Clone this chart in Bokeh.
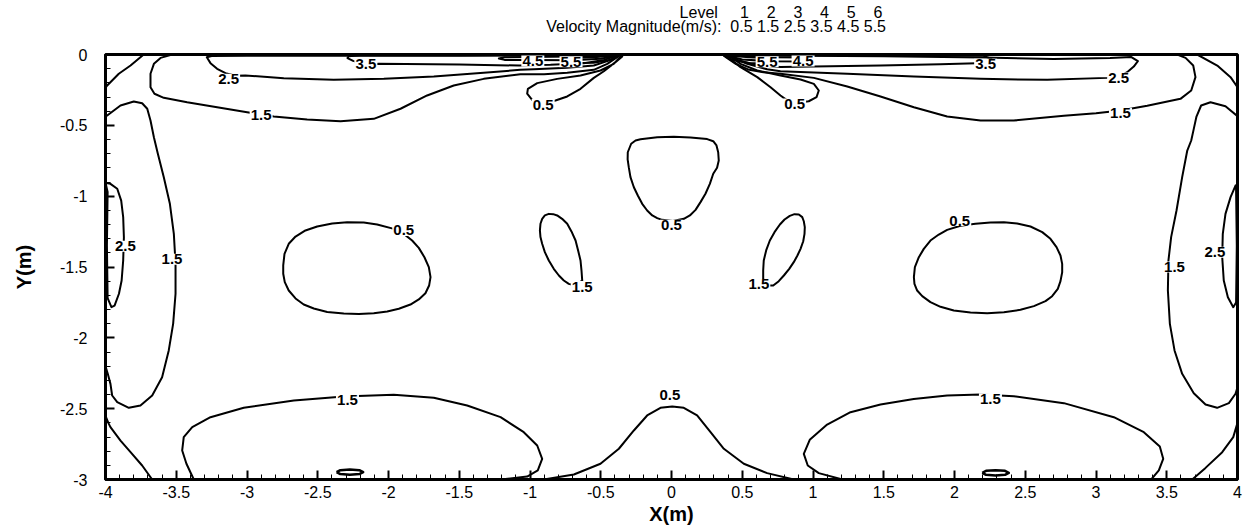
from bokeh.plotting import figure
from bokeh.models import Range1d, SingleIntervalTicker, Title
from bokeh.core.properties import value
from bokeh.embed import file_html
from bokeh.resources import INLINE

FONT = "Liberation Sans"
NBSP = "\u00a0"

# ---------------- axes ----------------
x_ticks = [-4, -3.5, -3, -2.5, -2, -1.5, -1, -0.5, 0, 0.5, 1, 1.5, 2, 2.5, 3, 3.5, 4]
x_tick_labels = ["-4", "-3.5", "-3", "-2.5", "-2", "-1.5", "-1", "-0.5", "0",
                 "0.5", "1", "1.5", "2", "2.5", "3", "3.5", "4"]
y_ticks = [0, -0.5, -1, -1.5, -2, -2.5, -3]
y_tick_labels = ["0", "-0.5", "-1", "-1.5", "-2", "-2.5", "-3"]
x_title = "X(m)"
y_title = "Y(m)"

# ---------------- contour legend ----------------
legend_levels = [1, 2, 3, 4, 5, 6]
legend_values = [0.5, 1.5, 2.5, 3.5, 4.5, 5.5]
legend_quantity = "Velocity Magnitude(m/s):"

# ---------------- contour lines (x, y in metres) ----------------
corner_tl_x = [-3.73, -3.823, -3.906, -3.988, -4.0]
corner_tl_y = [0.0, -0.078, -0.136, -0.219, -0.235]
corner_tr_x = [3.715, 3.857, 3.951, 4.0]
corner_tr_y = [0.0, -0.078, -0.16, -0.231]
corner_bl_x = [-4.0, -3.98, -3.965, -3.894, -3.823, -3.741, -3.67]
corner_bl_y = [-2.55, -2.6, -2.63, -2.725, -2.807, -2.901, -3.0]
corner_br_x = [3.68, 3.774, 3.892, 3.97, 4.0]
corner_br_y = [-3.0, -2.918, -2.807, -2.701, -2.6]

c15_wall_left_x = [-4.0, -3.988, -3.894, -3.80, -3.741, -3.705, -3.682, -3.658, -3.63, -3.588,
                   -3.545, -3.517, -3.505, -3.505, -3.522, -3.553, -3.60, -3.67, -3.753, -3.835,
                   -3.917, -3.953, -3.965, -3.985, -4.0]
c15_wall_left_y = [-0.435, -0.431, -0.36, -0.332, -0.344, -0.383, -0.466, -0.584, -0.701, -0.866,
                   -1.054, -1.266, -1.478, -1.689, -1.901, -2.089, -2.278, -2.407, -2.478, -2.494,
                   -2.454, -2.407, -2.325, -2.25, -2.2]
c15_wall_right_x = [4.0, 3.915, 3.809, 3.743, 3.71, 3.691, 3.673, 3.645, 3.609, 3.569, 3.531,
                    3.512, 3.508, 3.522, 3.555, 3.609, 3.691, 3.774, 3.856, 3.939, 3.986, 4.0]
c15_wall_right_y = [-0.435, -0.365, -0.337, -0.36, -0.438, -0.525, -0.607, -0.678, -0.866, -1.101,
                    -1.289, -1.454, -1.666, -1.901, -2.089, -2.254, -2.391, -2.471, -2.494, -2.461,
                    -2.395, -2.35]

c25_wall_left_x = [-4.0, -3.965, -3.917, -3.889, -3.875, -3.870, -3.875, -3.886, -3.905, -3.936,
                   -3.958, -3.985, -3.99, -3.985, -4.0]
c25_wall_left_y = [-0.905, -0.913, -0.948, -1.031, -1.148, -1.29, -1.454, -1.595, -1.689, -1.772,
                   -1.783, -1.72, -1.35, -0.97, -0.905]
c25_wall_right_x = [4.0, 3.986, 3.951, 3.915, 3.896, 3.892, 3.903, 3.932, 3.97, 3.99, 3.995, 3.99, 4.0]
c25_wall_right_y = [-0.92, -0.925, -1.007, -1.125, -1.266, -1.431, -1.595, -1.713, -1.784, -1.75,
                    -1.35, -0.95, -0.92]

c05_mid_left_x = [-2.744, -2.735, -2.705, -2.657, -2.587, -2.504, -2.398, -2.292, -2.175, -2.08,
                  -1.962, -1.892, -1.833, -1.786, -1.746, -1.715, -1.703, -1.713, -1.739, -1.786,
                  -1.845, -1.927, -2.009, -2.104, -2.21, -2.316, -2.433, -2.528, -2.599, -2.657,
                  -2.705, -2.733, -2.744, -2.744]
c05_mid_left_y = [-1.489, -1.407, -1.336, -1.285, -1.242, -1.214, -1.193, -1.184, -1.186, -1.2,
                  -1.231, -1.266, -1.313, -1.365, -1.431, -1.501, -1.572, -1.631, -1.685, -1.729,
                  -1.765, -1.795, -1.814, -1.826, -1.831, -1.829, -1.817, -1.793, -1.765, -1.722,
                  -1.666, -1.607, -1.548, -1.489]
c05_mid_right_x = [1.713, 1.72, 1.748, 1.783, 1.83, 1.889, 1.948, 2.042, 2.148, 2.254, 2.349, 2.443,
                   2.537, 2.62, 2.678, 2.721, 2.749, 2.761, 2.761, 2.749, 2.73, 2.69, 2.643, 2.561,
                   2.466, 2.349, 2.231, 2.113, 1.995, 1.901, 1.83, 1.772, 1.736, 1.717, 1.713]
c05_mid_right_y = [-1.572, -1.501, -1.431, -1.372, -1.313, -1.271, -1.238, -1.209, -1.195, -1.186,
                   -1.184, -1.193, -1.214, -1.254, -1.301, -1.36, -1.419, -1.478, -1.537, -1.6,
                   -1.654, -1.706, -1.741, -1.776, -1.802, -1.819, -1.826, -1.822, -1.807, -1.781,
                   -1.748, -1.706, -1.666, -1.619, -1.572]
c05_center_x = [-0.219, -0.101, 0.016, 0.134, 0.252, 0.295, 0.318, 0.33, 0.334, 0.322, 0.295,
                0.271, 0.24, 0.205, 0.17, 0.13, 0.087, 0.01, -0.066, -0.101, -0.136, -0.172,
                -0.207, -0.238, -0.266, -0.29, -0.302, -0.31, -0.309, -0.285, -0.254, -0.219]
c05_center_y = [-0.598, -0.584, -0.581, -0.586, -0.597, -0.612, -0.642, -0.69, -0.748, -0.8,
                -0.842, -0.913, -0.983, -1.042, -1.097, -1.136, -1.16, -1.175, -1.167, -1.155,
                -1.136, -1.101, -1.054, -0.995, -0.937, -0.866, -0.795, -0.74, -0.69, -0.63,
                -0.607, -0.598]

c15_small_left_x = [-0.631, -0.636, -0.643, -0.66, -0.678, -0.707, -0.737, -0.773, -0.808, -0.836,
                    -0.867, -0.895, -0.914, -0.926, -0.93, -0.926, -0.914, -0.895, -0.867, -0.832,
                    -0.796, -0.761, -0.726, -0.68, -0.631]
c15_small_left_y = [-1.595, -1.525, -1.454, -1.383, -1.313, -1.249, -1.195, -1.16, -1.136, -1.127,
                    -1.125, -1.136, -1.16, -1.195, -1.242, -1.289, -1.336, -1.395, -1.454, -1.513,
                    -1.56, -1.595, -1.619, -1.63, -1.595]
c15_small_right_x = [0.648, 0.648, 0.652, 0.669, 0.695, 0.728, 0.766, 0.799, 0.836, 0.869, 0.9,
                     0.924, 0.935, 0.942, 0.94, 0.931, 0.912, 0.89, 0.864, 0.832, 0.794, 0.758,
                     0.719, 0.67, 0.648]
c15_small_right_y = [-1.583, -1.525, -1.454, -1.383, -1.313, -1.254, -1.2, -1.165, -1.139, -1.127,
                     -1.129, -1.148, -1.177, -1.219, -1.266, -1.318, -1.372, -1.419, -1.466, -1.513,
                     -1.56, -1.6, -1.631, -1.63, -1.583]

c05_bottom_x = [-0.902, -0.69, -0.502, -0.372, -0.266, -0.172, -0.078, 0.005, 0.087, 0.181, 0.276,
                0.37, 0.511, 0.676, 0.864]
c05_bottom_y = [-3.0, -2.965, -2.889, -2.783, -2.654, -2.548, -2.494, -2.485, -2.494, -2.548, -2.666,
                -2.783, -2.889, -2.955, -3.0]
c15_bottom_left_x = [-3.376, -3.428, -3.458, -3.447, -3.387, -3.258, -3.023, -2.669, -2.316, -1.963,
                     -1.68, -1.444, -1.208, -1.044, -0.949, -0.914, -0.945, -1.02, -1.208]
c15_bottom_left_y = [-3.0, -2.889, -2.795, -2.701, -2.63, -2.56, -2.494, -2.442, -2.414, -2.402,
                     -2.423, -2.478, -2.56, -2.666, -2.76, -2.854, -2.936, -2.979, -3.0]
c15_bottom_right_x = [1.208, 1.041, 0.963, 0.935, 0.977, 1.10, 1.265, 1.477, 1.712, 1.948, 2.184,
                      2.419, 2.773, 3.126, 3.338, 3.451, 3.475, 3.444, 3.39]
c15_bottom_right_y = [-3.0, -2.955, -2.901, -2.819, -2.72, -2.612, -2.525, -2.471, -2.431, -2.407,
                      -2.4, -2.412, -2.461, -2.56, -2.666, -2.767, -2.854, -2.936, -3.0]
c05_ellipse_left_x = [-2.367, -2.34, -2.273, -2.206, -2.179, -2.206, -2.273, -2.34, -2.367]
c05_ellipse_left_y = [-2.948, -2.934, -2.93, -2.934, -2.948, -2.962, -2.966, -2.962, -2.948]
c05_ellipse_right_x = [2.196, 2.223, 2.29, 2.357, 2.384, 2.357, 2.29, 2.223, 2.196]
c05_ellipse_right_y = [-2.953, -2.939, -2.935, -2.939, -2.953, -2.967, -2.971, -2.967, -2.953]

c15_top_left_x = [-3.529, -3.611, -3.658, -3.682, -3.682, -3.654, -3.588, -3.423, -3.211, -2.999,
                  -2.811, -2.575, -2.339, -2.104, -1.915, -1.727, -1.539, -1.327, -1.068, -0.9,
                  -0.737, -0.549, -0.454, -0.384, -0.36]
c15_top_left_y = [0.0, -0.024, -0.066, -0.136, -0.231, -0.277, -0.306, -0.337, -0.372, -0.407,
                  -0.438, -0.459, -0.471, -0.454, -0.383, -0.289, -0.219, -0.172, -0.14, -0.14,
                  -0.129, -0.108, -0.066, -0.019, 0.0]
c15_top_right_x = [0.36, 0.384, 0.454, 0.549, 0.65, 0.77, 1.006, 1.242, 1.477, 1.713, 1.948, 2.184,
                   2.419, 2.773, 3.0, 3.173, 3.362, 3.597, 3.673, 3.703, 3.687, 3.633, 3.574]
c15_top_right_y = [0.0, -0.019, -0.066, -0.108, -0.125, -0.136, -0.165, -0.226, -0.296, -0.372,
                   -0.438, -0.466, -0.466, -0.433, -0.415, -0.395, -0.362, -0.313, -0.254, -0.16,
                   -0.078, -0.024, 0.0]
c25_top_left_x = [-0.37, -1.5, -3.0, -3.25, -3.284, -3.258, -3.211, -3.152, -3.08, -3.011, -2.74,
                  -2.387, -2.033, -1.68, -1.327, -1.068, -0.973, -0.737, -0.549, -0.454, -0.384]
c25_top_left_y = [-0.006, -0.008, -0.008, -0.01, -0.02, -0.061, -0.101, -0.132, -0.15, -0.148,
                  -0.167, -0.179, -0.172, -0.155, -0.129, -0.108, -0.104, -0.094, -0.078, -0.047,
                  -0.014]
c25_top_right_x = [0.37, 1.5, 2.2, 2.7, 3.1, 3.25, 3.296, 3.267, 3.22, 3.161, 3.079, 2.655, 2.184,
                   1.713, 1.242, 0.77, 0.676, 0.535, 0.42, 0.39]
c25_top_right_y = [-0.006, -0.012, -0.022, -0.032, -0.025, -0.018, -0.047, -0.085, -0.125, -0.16,
                   -0.165, -0.179, -0.172, -0.155, -0.136, -0.118, -0.104, -0.066, -0.02, -0.006]
c35_top_left_x = [-0.39, -2.2, -2.28, -2.29, -2.25, -2.163, -2.069, -1.5, -1.077, -0.855, -0.62,
                  -0.478, -0.396]
c35_top_left_y = [-0.004, -0.006, -0.012, -0.025, -0.045, -0.071, -0.065, -0.07, -0.078, -0.073,
                  -0.061, -0.038, -0.012]
c35_top_right_x = [0.39, 2.2, 2.26, 2.22, 1.9, 1.477, 0.77, 0.6, 0.47, 0.4]
c35_top_right_y = [-0.004, -0.008, -0.03, -0.06, -0.068, -0.078, -0.089, -0.075, -0.04, -0.012]
c45_top_left_x = [-0.38, -0.7, -1.0, -1.18, -1.22, -1.18, -1.0, -0.7, -0.5, -0.4]
c45_top_left_y = [-0.006, -0.015, -0.017, -0.019, -0.028, -0.038, -0.038, -0.04, -0.03, -0.01]
c45_top_right_x = [0.38, 0.7, 0.95, 1.0, 0.95, 0.7, 0.5, 0.4]
c45_top_right_y = [-0.006, -0.02, -0.022, -0.035, -0.05, -0.048, -0.035, -0.01]
c55_top_left_x = [-0.37, -0.55, -0.7, -0.75, -0.7, -0.55, -0.42, -0.37]
c55_top_left_y = [-0.006, -0.02, -0.025, -0.04, -0.06, -0.058, -0.035, -0.006]
c55_top_right_x = [0.37, 0.55, 0.68, 0.72, 0.68, 0.55, 0.42, 0.37]
c55_top_right_y = [-0.006, -0.02, -0.025, -0.045, -0.065, -0.06, -0.035, -0.006]
c05_top_left_x = [-0.36, -0.408, -0.502, -0.643, -0.808, -0.949, -1.015, -1.02, -0.985, -0.95,
                  -0.86, -0.82, -0.737, -0.643, -0.549, -0.478, -0.396, -0.348]
c05_top_left_y = [-0.014, -0.066, -0.113, -0.148, -0.172, -0.202, -0.242, -0.277, -0.32, -0.34,
                  -0.335, -0.325, -0.296, -0.242, -0.165, -0.118, -0.054, -0.014]
c05_top_right_x = [0.393, 0.488, 0.606, 0.7, 0.77, 0.813, 0.84, 0.93, 0.97, 1.025, 1.041, 1.006,
                   0.912, 0.77, 0.606, 0.488, 0.417]
c05_top_right_y = [-0.014, -0.089, -0.16, -0.231, -0.289, -0.32, -0.335, -0.335, -0.33, -0.301,
                   -0.254, -0.207, -0.176, -0.148, -0.113, -0.066, -0.014]

# ---------------- contour labels ----------------
label_text = ["3.5", "2.5", "1.5", "4.5", "5.5", "0.5",
              "5.5", "4.5", "0.5", "3.5", "2.5", "1.5",
              "2.5", "1.5", "0.5", "1.5", "0.5", "1.5", "0.5", "1.5", "2.5",
              "1.5", "0.5", "1.5"]
label_x = [-2.16, -3.13, -2.9, -0.98, -0.71, -0.907,
           0.676, 0.93, 0.87, 2.22, 3.16, 3.173,
           -3.859, -3.53, -1.892, -0.631, 0.0, 0.617, 2.037, 3.555, 3.84,
           -2.29, -0.012, 2.254]
label_y = [-0.07, -0.175, -0.43, -0.045, -0.052, -0.353,
           -0.052, -0.045, -0.35, -0.068, -0.165, -0.415,
           -1.353, -1.445, -1.242, -1.638, -1.205, -1.623, -1.172, -1.5, -1.395,
           -2.44, -2.407, -2.43]

# ---------------- figure ----------------
W, H = 1248, 529
FRAME_RIGHT = 1237
p = figure(width=W, height=H, x_range=Range1d(-4, 4), y_range=Range1d(-3, 0),
           output_backend="svg", toolbar_location=None, title=None,
           min_border_left=105, min_border_right=W - FRAME_RIGHT,
           min_border_top=54, min_border_bottom=50)
p.background_fill_color = "white"
p.border_fill_color = "white"
p.outline_line_color = "black"
p.outline_line_width = 3
p.xgrid.visible = False
p.ygrid.visible = False

for ax, ticks, labels, standoff in ((p.xaxis, x_ticks, x_tick_labels, 6),
                                    (p.yaxis, y_ticks, y_tick_labels, 18)):
    ax.ticker = SingleIntervalTicker(interval=0.5, num_minor_ticks=5)
    ax.major_label_overrides = {t: s for t, s in zip(ticks, labels)}
    ax.axis_line_color = "black"
    ax.axis_line_width = 3
    ax.major_tick_in = 9
    ax.major_tick_out = 0
    ax.minor_tick_in = 5
    ax.minor_tick_out = 0
    ax.major_tick_line_color = "black"
    ax.major_tick_line_width = 2
    ax.minor_tick_line_color = "black"
    ax.minor_tick_line_width = 1
    ax.major_label_text_font = FONT
    ax.major_label_text_font_size = "16px"
    ax.major_label_text_color = "black"
    ax.major_label_standoff = standoff
    ax.axis_label_text_font = FONT
    ax.axis_label_text_font_style = "bold"
    ax.axis_label_text_font_size = "20px"
    ax.axis_label_text_color = "black"

p.xaxis.axis_label = x_title
p.xaxis.axis_label_standoff = 2
p.yaxis.axis_label = y_title
p.yaxis.axis_label_standoff = 22

contours = [
    (corner_tl_x, corner_tl_y), (corner_tr_x, corner_tr_y),
    (corner_bl_x, corner_bl_y), (corner_br_x, corner_br_y),
    (c15_wall_left_x, c15_wall_left_y), (c15_wall_right_x, c15_wall_right_y),
    (c25_wall_left_x, c25_wall_left_y), (c25_wall_right_x, c25_wall_right_y),
    (c05_mid_left_x, c05_mid_left_y), (c05_mid_right_x, c05_mid_right_y),
    (c05_center_x, c05_center_y),
    (c15_small_left_x, c15_small_left_y), (c15_small_right_x, c15_small_right_y),
    (c05_bottom_x, c05_bottom_y),
    (c15_bottom_left_x, c15_bottom_left_y), (c15_bottom_right_x, c15_bottom_right_y),
    (c15_top_left_x, c15_top_left_y), (c15_top_right_x, c15_top_right_y),
    (c25_top_left_x, c25_top_left_y), (c25_top_right_x, c25_top_right_y),
    (c35_top_left_x, c35_top_left_y), (c35_top_right_x, c35_top_right_y),
    (c45_top_left_x, c45_top_left_y), (c45_top_right_x, c45_top_right_y),
    (c55_top_left_x, c55_top_left_y), (c55_top_right_x, c55_top_right_y),
    (c05_top_left_x, c05_top_left_y), (c05_top_right_x, c05_top_right_y),
]
p.multi_line(xs=[c[0] for c in contours], ys=[c[1] for c in contours],
             line_color="black", line_width=2, line_join="round", line_cap="round")
p.multi_line(xs=[c05_ellipse_left_x, c05_ellipse_right_x], ys=[c05_ellipse_left_y, c05_ellipse_right_y],
             line_color="black", line_width=2.5, line_join="round")

# contour labels: white gap + bold text
p.rect(x=label_x, y=label_y, width=23, height=11, width_units="screen", height_units="screen",
       fill_color="white", line_color=None)
p.text(x=label_x, y=label_y, text=label_text, text_font=value(FONT), text_font_style="bold",
       text_font_size="15px", text_align="center", text_baseline="middle", text_color="black")

# ---------------- contour-level legend above the frame ----------------
level_row = NBSP * 30 + "Level" + NBSP * 5 + (NBSP * 4).join(str(l) for l in legend_levels) + NBSP
value_row = legend_quantity.replace(" ", NBSP) + NBSP * 2 + NBSP.join(f"{v:.1f}" for v in legend_values)
legend_block = level_row + "\n" + value_row + "\n" + NBSP
LEGEND_RIGHT = 886.3
p.add_layout(Title(text=legend_block, align="right", vertical_align="top",
                   offset=FRAME_RIGHT - LEGEND_RIGHT, standoff=4, text_line_height=0.875,
                   text_font=FONT, text_font_size="16px", text_font_style="normal",
                   text_color="black"), "above")

open("out.html", "w").write(file_html(p, INLINE))
